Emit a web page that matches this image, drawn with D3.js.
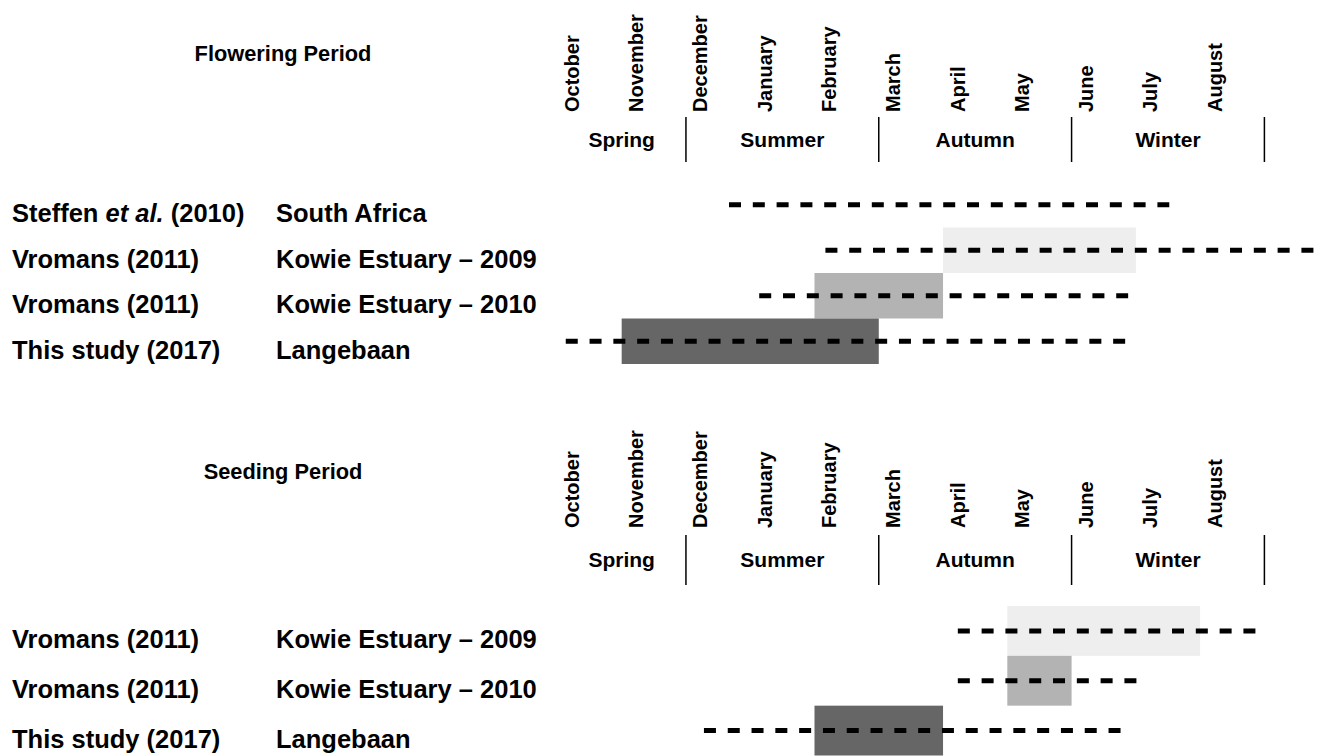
<!DOCTYPE html>
<html>
<head>
<meta charset="utf-8">
<script src="https://cdn.jsdelivr.net/npm/d3@7"></script>
<style>
  body { margin: 0; background: #fff; }
  text { font-family: "Liberation Sans", Arial, sans-serif; font-weight: bold; fill: #000; }
</style>
</head>
<body>
<svg id="chart" width="1318" height="756"></svg>
<script>
// Months shown on the time axis (0 = start of October)
var months = ["October", "November", "December", "January", "February", "March",
              "April", "May", "June", "July", "August"];
var seasonNames = ["Spring", "Summer", "Autumn", "Winter"];
var seasonStart = [0, 2, 5, 8];
var seasonEnd = [2, 5, 8, 11];

// Flowering period, in months from the start of October
var floweringAuthors = ["Steffen et al. (2010)", "Vromans (2011)", "Vromans (2011)", "This study (2017)"];
var floweringSites = ["South Africa", "Kowie Estuary \u2013 2009", "Kowie Estuary \u2013 2010", "Langebaan"];
var floweringDashStart = [2.67, 4.17, 3.14, 0.13];
var floweringDashEnd = [9.52, 11.78, 8.88, 8.85];
var floweringBarStart = [null, 6, 4, 1];
var floweringBarEnd = [null, 9, 6, 5];

// Seeding period
var seedingAuthors = ["Vromans (2011)", "Vromans (2011)", "This study (2017)"];
var seedingSites = ["Kowie Estuary \u2013 2009", "Kowie Estuary \u2013 2010", "Langebaan"];
var seedingDashStart = [6.23, 6.23, 2.28];
var seedingDashEnd = [10.88, 9.02, 8.77];
var seedingBarStart = [7, 7, 4];
var seedingBarEnd = [10, 8, 6];

var svg = d3.select("#chart");
svg.append("rect").attr("width", 1318).attr("height", 756).attr("fill", "#fff");

var x = d3.scaleLinear().domain([0, months.length]).range([557.4, 1264.4]);

var shade = d3.scaleOrdinal()
    .domain(["Kowie Estuary \u2013 2009", "Kowie Estuary \u2013 2010", "Langebaan"])
    .range(["#eeeeee", "#b3b3b3", "#666666"]);

function rowsOf(authors, sites, ds, de, bs, be) {
    return authors.map((a, i) => ({
        author: a, site: sites[i],
        dashStart: ds[i], dashEnd: de[i],
        barStart: bs[i], barEnd: be[i]
    }));
}

function drawPanel(title, titleY, monthBottom, seasonBase, divTop, divBottom, bandRange, rows) {
    var g = svg.append("g");

    g.append("text")
        .attr("x", 283).attr("y", titleY)
        .attr("text-anchor", "middle")
        .style("font-size", "21.8px")
        .text(title);

    // Rotated month names, reading bottom to top
    g.selectAll("text.month")
        .data(months)
        .join("text")
        .attr("class", "month")
        .attr("text-anchor", "start")
        .style("font-size", "20px")
        .attr("transform", (d, i) => `translate(${x(i) + 21.5},${monthBottom}) rotate(-90)`)
        .text(d => d);

    // Seasons and their dividers
    g.selectAll("text.season")
        .data(seasonNames)
        .join("text")
        .attr("class", "season")
        .attr("text-anchor", "middle")
        .attr("x", (d, i) => (x(seasonStart[i]) + x(seasonEnd[i])) / 2)
        .attr("y", seasonBase)
        .style("font-size", "21px")
        .text(d => d);

    g.selectAll("line.divider")
        .data(seasonEnd)
        .join("line")
        .attr("class", "divider")
        .attr("x1", d => x(d)).attr("x2", d => x(d))
        .attr("y1", divTop).attr("y2", divBottom)
        .attr("stroke", "#000").attr("stroke-width", 1.5);

    var y = d3.scaleBand()
        .domain(d3.range(rows.length))
        .range(bandRange)
        .paddingInner(0);

    // Shaded bars for the observed period
    g.selectAll("rect.bar")
        .data(rows.filter(r => r.barStart != null))
        .join("rect")
        .attr("class", "bar")
        .attr("x", d => x(d.barStart))
        .attr("width", d => x(d.barEnd) - x(d.barStart))
        .attr("y", d => y(rows.indexOf(d)))
        .attr("height", y.bandwidth())
        .attr("fill", d => shade(d.site));

    // Dashed lines for the reported range
    g.selectAll("line.range")
        .data(rows)
        .join("line")
        .attr("class", "range")
        .attr("x1", d => x(d.dashStart))
        .attr("x2", d => x(d.dashEnd))
        .attr("y1", (d, i) => y(i) + y.bandwidth() / 2)
        .attr("y2", (d, i) => y(i) + y.bandwidth() / 2)
        .attr("stroke", "#000")
        .attr("stroke-width", 5)
        .attr("stroke-dasharray", "12,11.8");

    // Row labels
    var authorText = g.selectAll("text.author")
        .data(rows)
        .join("text")
        .attr("class", "author")
        .attr("x", 12)
        .attr("y", (d, i) => y(i) + y.bandwidth() / 2 + 17.5)
        .style("font-size", "25.5px");

    authorText.each(function (d) {
        var t = d3.select(this);
        var parts = d.author.split("et al.");
        if (parts.length > 1) {
            t.append("tspan").text(parts[0]);
            t.append("tspan").style("font-style", "italic").text("et al.");
            t.append("tspan").text(parts[1]);
        } else {
            t.text(d.author);
        }
    });

    g.selectAll("text.site")
        .data(rows)
        .join("text")
        .attr("class", "site")
        .attr("x", 276)
        .attr("y", (d, i) => y(i) + y.bandwidth() / 2 + 17.5)
        .style("font-size", "25.5px")
        .text(d => d.site);
}

drawPanel("Flowering Period", 61, 112, 146.5, 117, 162, [182, 364],
    rowsOf(floweringAuthors, floweringSites, floweringDashStart, floweringDashEnd,
           floweringBarStart, floweringBarEnd));

drawPanel("Seeding Period", 479, 528, 566.5, 535, 585, [606, 755.5],
    rowsOf(seedingAuthors, seedingSites, seedingDashStart, seedingDashEnd,
           seedingBarStart, seedingBarEnd));
</script>
</body>
</html>
